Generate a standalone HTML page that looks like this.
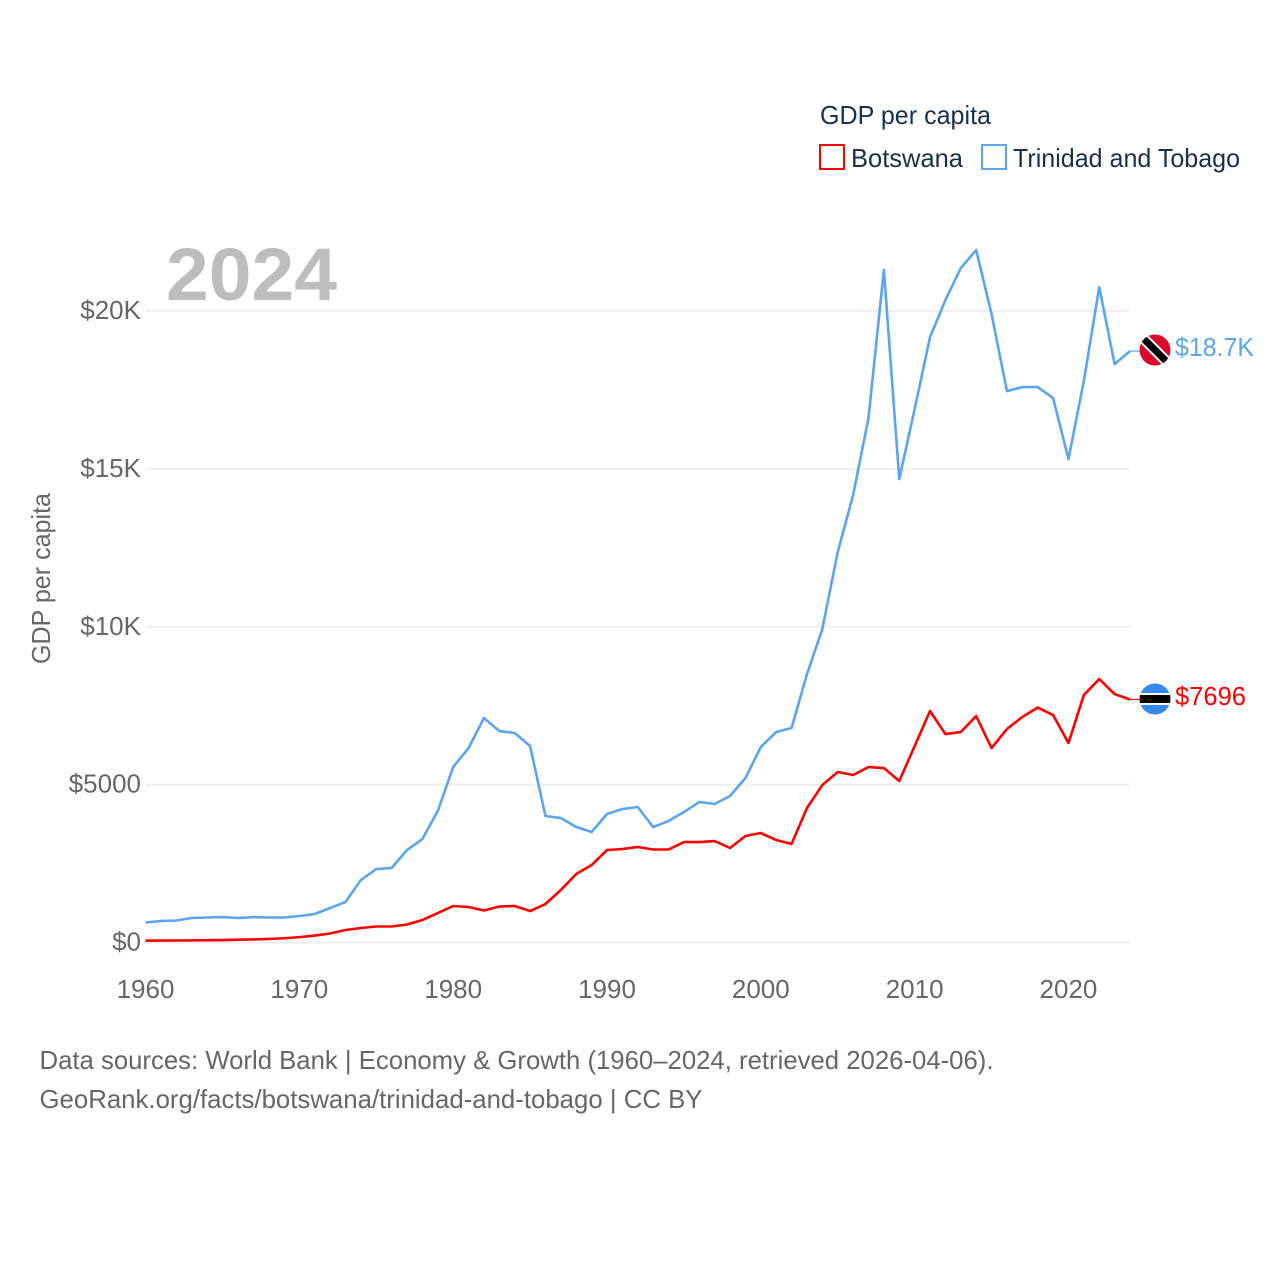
<!DOCTYPE html>
<html lang="en">
<head>
<meta charset="utf-8">
<title>GDP per capita: Botswana and Trinidad and Tobago</title>
<style>
html,body{margin:0;padding:0;background:#fff}
svg{display:block}
text{font-family:"Liberation Sans",sans-serif}
</style>
</head>
<body>
<svg id="chart" xmlns="http://www.w3.org/2000/svg" width="1280" height="1280" viewBox="0 0 1280 1280">
  <defs>
    <clipPath id="flag-clip-tt"><circle cx="1155" cy="350" r="15.5"/></clipPath>
    <clipPath id="flag-clip-bw"><circle cx="1155" cy="699" r="15.5"/></clipPath>
  </defs>
  <rect width="1280" height="1280" fill="#fff"/>
  <g id="grid"></g>
  <text x="166" y="300" font-size="74" font-weight="700" fill="#bdbdbd" textLength="171" lengthAdjust="spacingAndGlyphs">2024</text>
  <g id="y-ticks"></g>
  <g id="x-ticks"></g>
  <text transform="translate(50 664) rotate(-90)" font-size="26" fill="#666" textLength="171" lengthAdjust="spacingAndGlyphs">GDP per capita</text>
  <g id="series"></g>

  <g>
    <g clip-path="url(#flag-clip-tt)">
      <rect x="1139" y="334" width="32" height="32" fill="#da0a2e"/>
      <line x1="1139" y1="334" x2="1171" y2="366" stroke="#fff" stroke-width="11"/>
      <line x1="1139" y1="334" x2="1171" y2="366" stroke="#000" stroke-width="7"/>
    </g>
  </g>
  <g>
    <g clip-path="url(#flag-clip-bw)">
      <rect x="1139" y="683" width="32" height="32" fill="#338af3"/>
      <rect x="1139" y="693" width="32" height="12" fill="#fff"/>
      <rect x="1139" y="695" width="32" height="8" fill="#000"/>
    </g>
  </g>
  <text x="1175" y="356" font-size="26" fill="#5ba4ee" textLength="79" lengthAdjust="spacingAndGlyphs">$18.7K</text>
  <text x="1175" y="705" font-size="26" fill="#ff0000" textLength="71" lengthAdjust="spacingAndGlyphs">$7696</text>

  <g>
    <text x="820" y="124" font-size="26" fill="#18304f" textLength="171" lengthAdjust="spacingAndGlyphs">GDP per capita</text>
    <g>
      <rect x="820" y="145" width="24" height="24" fill="#fff" stroke="#ff0000" stroke-width="2"/>
      <text x="851" y="167" font-size="26" fill="#18304f" textLength="112" lengthAdjust="spacingAndGlyphs">Botswana</text>
    </g>
    <g>
      <rect x="982" y="145" width="24" height="24" fill="#fff" stroke="#5ba4ee" stroke-width="2"/>
      <text x="1013" y="167" font-size="26" fill="#18304f" textLength="227" lengthAdjust="spacingAndGlyphs">Trinidad and Tobago</text>
    </g>
  </g>

  <text x="39.5" y="1069" font-size="26" fill="#666" textLength="954" lengthAdjust="spacingAndGlyphs">Data sources: World Bank | Economy &amp; Growth (1960–2024, retrieved 2026-04-06).</text>
  <text x="39.5" y="1108" font-size="26" fill="#666" textLength="663" lengthAdjust="spacingAndGlyphs">GeoRank.org/facts/botswana/trinidad-and-tobago | CC BY</text>
</svg>
<script>
const startYear = 1960;
const yTickValues = [0, 5000, 10000, 15000, 20000];
const yTickLabels = ["$0", "$5000", "$10K", "$15K", "$20K"];
const xTickValues = [1960, 1970, 1980, 1990, 2000, 2010, 2020];
const botswanaValues = [57, 60, 63, 67, 72, 78, 88, 98, 112, 135, 170, 220, 285, 396, 459, 507, 507, 570, 712, 934, 1156, 1124, 1013, 1140, 1156, 997, 1219, 1662, 2169, 2454, 2929, 2961, 3024, 2945, 2945, 3182, 3182, 3214, 2993, 3372, 3467, 3246, 3119, 4259, 4987, 5399, 5304, 5557, 5526, 5114, 6222, 7331, 6602, 6666, 7172, 6159, 6761, 7141, 7442, 7204, 6317, 7837, 8344, 7869, 7696];
const trinidadValues = [633, 681, 697, 776, 792, 807, 776, 807, 792, 792, 839, 902, 1092, 1282, 1979, 2327, 2359, 2929, 3277, 4164, 5557, 6159, 7109, 6697, 6634, 6222, 4006, 3942, 3657, 3499, 4069, 4227, 4291, 3657, 3847, 4132, 4449, 4386, 4639, 5209, 6191, 6666, 6792, 8502, 9927, 12366, 14170, 16609, 21300, 14677, 16894, 19174, 20346, 21359, 21930, 19902, 17464, 17590, 17590, 17242, 15311, 17781, 20757, 18319, 18731];

const SVG_NS = "http://www.w3.org/2000/svg";
function xScale(year) { return 145.5 + (year - 1960) * (1130 - 145.5) / 64; }
function yScale(value) { return 942.5 - value * (942.5 - 311) / 20000; }
function make(tag, attrs, text) {
  const el = document.createElementNS(SVG_NS, tag);
  for (const k in attrs) el.setAttribute(k, attrs[k]);
  if (text !== undefined) el.textContent = text;
  return el;
}

const grid = document.getElementById("grid");
const yTicks = document.getElementById("y-ticks");
const xTicks = document.getElementById("x-ticks");
const seriesGroup = document.getElementById("series");

yTickValues.forEach(function (v, i) {
  const line = make("line", { x1: 146, x2: 1130, y1: yScale(v), y2: yScale(v), stroke: "#efefef", "stroke-width": 2 });
  
  
  grid.appendChild(line);
  const label = make("text", { x: 141, y: yScale(v) + 8, "text-anchor": "end", "font-size": 26, fill: "#666" }, yTickLabels[i]);
  
  
  yTicks.appendChild(label);
});

xTickValues.forEach(function (year) {
  const label = make("text", { x: xScale(year), y: 998, "text-anchor": "middle", "font-size": 26, fill: "#666" }, String(year));
  
  
  xTicks.appendChild(label);
});

function linePath(values) {
  return values.map(function (v, i) {
    return (i ? "L" : "M") + xScale(startYear + i).toFixed(2) + " " + yScale(v).toFixed(2);
  }).join(" ");
}
function connector(values) {
  const last = yScale(values[values.length - 1]);
  return "M" + xScale(startYear + values.length - 1).toFixed(2) + " " + last.toFixed(2) + " L1140 " + last.toFixed(2);
}

const trinidadLine = make("path", { d: linePath(trinidadValues), fill: "none", stroke: "#5ba4ee", "stroke-width": 2.6, "stroke-linejoin": "round" });


seriesGroup.appendChild(trinidadLine);

const botswanaLine = make("path", { d: linePath(botswanaValues), fill: "none", stroke: "#ff0000", "stroke-width": 2.6, "stroke-linejoin": "round" });


seriesGroup.appendChild(botswanaLine);

const trinidadConnector = make("path", { d: connector(trinidadValues), fill: "none", stroke: "#5ba4ee", "stroke-width": 1.2 });


seriesGroup.appendChild(trinidadConnector);

const botswanaConnector = make("path", { d: connector(botswanaValues), fill: "none", stroke: "#ff0000", "stroke-width": 1.2 });


seriesGroup.appendChild(botswanaConnector);
</script>
</body>
</html>
